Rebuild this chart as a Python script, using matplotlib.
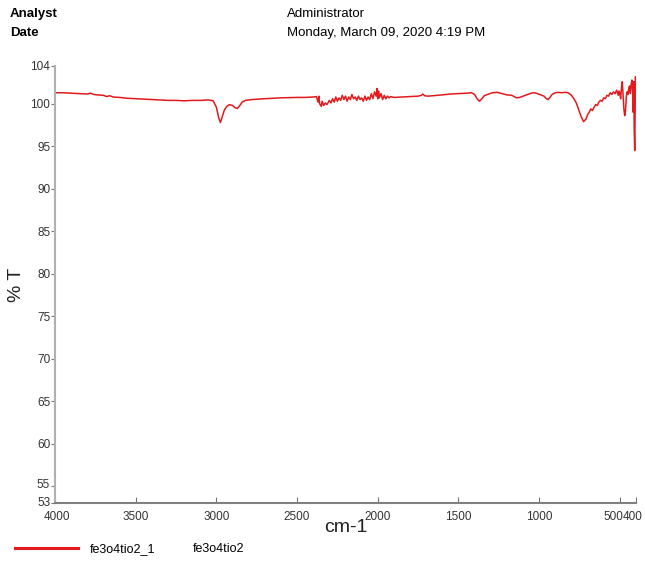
import matplotlib
matplotlib.use("Agg")
import matplotlib.pyplot as plt
import matplotlib.transforms as mtransforms

wavenumber = [
    4000, 3950, 3900, 3850, 3800, 3780, 3760, 3740, 3700, 3680,
    3660, 3640, 3600, 3550, 3500, 3450, 3400, 3350, 3300, 3250,
    3200, 3150, 3100, 3050, 3020,
    3000, 2985, 2975, 2965, 2950, 2935, 2920, 2900, 2885, 2870,
    2855, 2840, 2820, 2780, 2700, 2600, 2500, 2450, 2400, 2380,
    2370, 2365, 2360, 2350, 2345, 2335, 2325, 2315, 2300, 2290,
    2280, 2270, 2260, 2250, 2240, 2230, 2220, 2210, 2200, 2190,
    2180, 2170, 2160, 2150, 2140, 2130, 2120, 2110, 2100, 2090,
    2080, 2070, 2060, 2050, 2040, 2030, 2020, 2010, 2005, 2000,
    1995, 1990, 1980, 1970, 1960, 1950, 1940, 1930, 1920, 1900,
    1850, 1800, 1750, 1730, 1720, 1710, 1690, 1660, 1600, 1550,
    1500, 1450, 1420, 1400, 1385, 1370, 1355, 1340, 1320, 1290,
    1260, 1230, 1200, 1170, 1140, 1120, 1100, 1085, 1070, 1050,
    1030, 1010, 990, 970, 955, 945, 935, 920, 900, 880,
    860, 840, 820, 800, 785, 770, 755, 740, 725, 710,
    700, 690, 680, 670, 660, 650, 640, 630, 620, 610,
    600, 590, 580, 570, 560, 550, 540, 530, 520, 510,
    505, 500, 495, 490, 485, 480, 475, 470, 465, 460,
    455, 450, 445, 440, 435, 430, 425, 420, 417, 414,
    411, 408, 405, 403, 401, 400,
]

transmittance = [
    101.3, 101.3, 101.25, 101.2, 101.15, 101.25, 101.1, 101.05, 101.0, 100.85,
    100.95, 100.8, 100.75, 100.65, 100.6, 100.55, 100.5, 100.45, 100.4, 100.4,
    100.35, 100.4, 100.4, 100.45, 100.35,
    99.6, 98.3, 97.8, 98.4, 99.3, 99.7, 99.9, 99.8, 99.55, 99.45,
    99.8, 100.2, 100.4, 100.5, 100.6, 100.7, 100.75, 100.75, 100.8, 100.85,
    100.2, 100.9, 100.0, 99.7, 100.3, 99.8, 100.1, 99.9, 100.4, 100.1,
    100.6, 100.2, 100.8, 100.3, 100.7, 100.4, 101.0, 100.5, 100.9, 100.3,
    100.8, 100.5, 101.1, 100.6, 100.8, 100.4, 100.9, 100.5, 100.7, 100.3,
    100.9, 100.4, 100.8, 100.5, 101.2, 100.6, 101.4, 100.9, 101.8, 100.6,
    101.5, 100.7, 101.2, 100.5, 101.0, 100.6, 100.9, 100.7, 100.85, 100.75,
    100.8, 100.85, 100.9, 101.0, 101.15, 100.95, 100.9, 100.95, 101.05, 101.15,
    101.2, 101.25, 101.3, 101.1, 100.6, 100.3, 100.6, 100.95, 101.1, 101.3,
    101.35, 101.2, 101.05, 101.0, 100.7, 100.75, 100.9, 101.0, 101.1, 101.25,
    101.3, 101.2, 101.05, 100.9, 100.6, 100.5, 100.7, 101.1, 101.3, 101.35,
    101.3, 101.35, 101.3, 101.0, 100.6, 100.1, 99.3, 98.5, 97.9, 98.2,
    98.7, 99.0, 99.4, 99.2, 99.6, 99.9, 99.8, 100.2, 100.4, 100.3,
    100.7, 100.6, 101.0, 100.9, 101.3, 101.1, 101.4, 101.2, 101.6, 101.0,
    101.5, 101.2, 100.6, 101.9, 102.6, 100.9, 99.4, 98.6, 99.2, 100.8,
    101.4, 101.1, 101.8, 102.1, 101.2, 102.3, 102.8, 101.0, 99.0, 102.6,
    97.0, 94.5, 99.5, 103.2, 101.5, 100.3,
]

x_ticks = [4000, 3500, 3000, 2500, 2000, 1500, 1000, 500, 400]
y_ticks = [104.45, 100, 95, 90, 85, 80, 75, 70, 65, 60, 55, 53]
y_tick_labels = ["104", "100", "95", "90", "85", "80", "75", "70", "65", "60", "55", "53"]
series_name = "fe3o4tio2_1"
sample_name = "fe3o4tio2"

plt.rcParams['font.family'] = ['Liberation Sans', 'DejaVu Sans']

fig = plt.figure(figsize=(6.45, 5.63), dpi=100)
ax = fig.add_axes([55/645, 1-503/563, (636-55)/645, (503-66)/563])

ax.plot(wavenumber, transmittance, color='#e3191c', lw=1.1)
ax.set_xlim(4000, 400)
ax.set_ylim(53, 104.45)
ax.set_xticks(x_ticks)
ax.set_yticks(y_ticks)
ax.set_xticklabels([str(t) for t in x_ticks], fontsize=8.5, color='#333333')
ax.set_yticklabels(y_tick_labels, fontsize=8.5, color='#333333')
ax.tick_params(axis='y', direction='out', length=3, width=0.8, color='#777777', pad=0.5)
ax.tick_params(axis='x', direction='in', length=4, width=0.8, color='#777777', pad=6)
for s in ['top', 'right']:
    ax.spines[s].set_visible(False)
ax.spines['left'].set_color('#b0b0b0')
ax.spines['left'].set_linewidth(1.5)
ax.spines['bottom'].set_color('#808080')
ax.spines['bottom'].set_linewidth(1.5)

# nudge crowded tick labels apart (in the reference they nearly touch)
def nudge(label, dx, dy):
    label.set_transform(label.get_transform() + mtransforms.ScaledTranslation(dx/100, dy/100, fig.dpi_scale_trans))

xl = ax.get_xticklabels()
nudge(xl[-2], -6, 0)
nudge(xl[-1], -3, 0)
nudge(xl[0], 2, 0)
yl = ax.get_yticklabels()
nudge(yl[-1], 0, 1)
nudge(yl[-2], 0, 3)

ax.set_xlabel("cm-1", fontsize=14, color='#222222', labelpad=-3)
ax.set_ylabel("% T", fontsize=14, color='#222222', labelpad=4)

fig.text(10/645, 1-14/563, "Analyst", fontsize=9.5, fontweight='bold', va='center', ha='left')
fig.text(10/645, 1-33/563, "Date", fontsize=9.5, fontweight='bold', va='center', ha='left')
fig.text(287/645, 1-14/563, "Administrator", fontsize=9.5, va='center', ha='left')
fig.text(287/645, 1-33/563, "Monday, March 09, 2020 4:19 PM", fontsize=9.5, va='center', ha='left')

fig.add_artist(plt.Line2D([15/645, 78/645], [1-548/563, 1-548/563], color='#e3191c', lw=2.2))
fig.text(90/645, 1-552/563, series_name, fontsize=9, va='baseline', ha='left')
fig.text(193/645, 1-552/563, sample_name, fontsize=9, va='baseline', ha='left')

fig.savefig("out.png", dpi=100)
